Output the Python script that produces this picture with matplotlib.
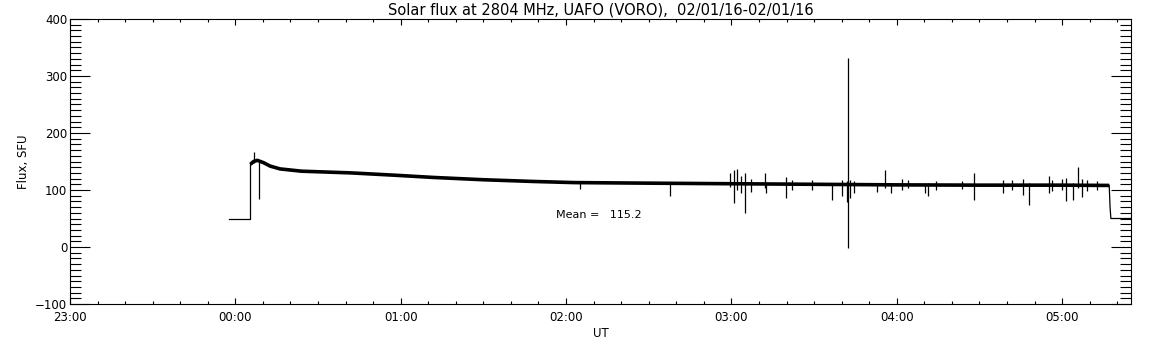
import numpy as np
import matplotlib
matplotlib.use("Agg")
import matplotlib.pyplot as plt
from matplotlib.ticker import MultipleLocator, FuncFormatter

# time in hours relative to 00:00 UT (23:00 of previous day = -1)
trend_t = [-0.036, 0.091, 0.091, 0.11, 0.133, 0.17, 0.21, 0.27, 0.40, 0.70,
           0.96, 1.20, 1.50, 1.80, 2.05, 2.50, 3.00, 3.50, 4.00, 4.50,
           5.00, 5.285, 5.29, 5.295, 5.42]
trend_flux = [50, 50, 145, 150, 152, 148, 142, 137, 133, 130,
              126, 122, 118, 115, 113, 112, 111, 110, 109, 108.5,
              108.5, 108, 70, 50, 50]

# short spikes / dropouts: time, low, high
spike_t = [0.115, 0.141, 2.087, 2.626, 2.994, 3.018, 3.036, 3.081, 3.202, 3.212,
           3.329, 3.606, 3.697, 3.703, 3.717, 3.879, 3.929, 3.965, 4.071, 4.170,
           4.192, 4.468, 4.642, 4.764, 4.802, 4.919, 5.000, 5.026, 5.065, 5.097,
           5.121, 3.060, 3.121, 3.364, 3.485, 3.667, 3.739, 4.030, 4.240, 4.394,
           4.697, 4.940, 5.150, 5.210]
spike_lo = [148, 84, 102, 89.5, 106, 77, 100, 60, 104, 94,
            86, 82.5, 79.5, -2, 86, 97, 104, 94, 104, 95,
            89.5, 82.5, 94, 91, 73.7, 94, 100, 80.7, 82.5, 104,
            88, 95, 97, 100, 100, 90, 95, 100, 100, 102,
            100, 98, 98, 100]
spike_hi = [167, 150, 113, 112, 130, 135, 136, 130, 130, 112,
            123, 112, 115, 332, 118, 112, 135, 112, 117.5, 112,
            112, 130, 118, 118.7, 112, 124.6, 119, 120.5, 112, 141,
            119, 125, 120, 118, 117, 117, 116, 119, 116, 116,
            117, 118, 117, 115]

mean_label = "Mean =   115.2"
title = "Solar flux at 2804 MHz, UAFO (VORO),  02/01/16-02/01/16"

plt.rcParams['font.family'] = ['DejaVu Sans']
fig = plt.figure(figsize=(11.52, 3.45), dpi=100)
ax = fig.add_axes([70 / 1152, 1 - 304 / 345, (1131 - 70) / 1152, (304 - 19) / 345])

# thin step parts before/after the observation, thick noisy band in between
ax.plot(trend_t[:3], trend_flux[:3], color='black', linewidth=0.9)
ax.plot(trend_t[2:22], trend_flux[2:22], color='black', linewidth=2.6,
        solid_capstyle='butt', solid_joinstyle='miter')
ax.plot(trend_t[21:], trend_flux[21:], color='black', linewidth=0.9)
ax.vlines(spike_t, spike_lo, spike_hi, color='black', linewidth=0.9)

ax.text(1.94, 56, mean_label, fontsize=8, ha='left', va='center')

ax.set_xlim(-1, 5.4167)
ax.set_ylim(-100, 400)
ax.xaxis.set_major_locator(MultipleLocator(1))
ax.xaxis.set_minor_locator(MultipleLocator(1 / 6))
ax.yaxis.set_major_locator(MultipleLocator(100))
ax.yaxis.set_minor_locator(MultipleLocator(10))


def hhmm(v, pos):
    h = int(np.floor(v + 1e-6)) % 24
    m = int(round((v - np.floor(v + 1e-6)) * 60))
    return f"{h:02d}:{m:02d}"


ax.xaxis.set_major_formatter(FuncFormatter(hhmm))
ax.tick_params(axis='x', which='major', direction='in', length=4.3, width=0.8,
               top=True, labelsize=8.5, pad=5)
ax.tick_params(axis='x', which='minor', direction='in', length=2.2, width=0.8, top=True)
ax.tick_params(axis='y', which='major', direction='in', length=14.4, width=0.8,
               right=True, labelsize=8.5, pad=2)
ax.tick_params(axis='y', which='minor', direction='in', length=7.9, width=0.8, right=True)
for s in ax.spines.values():
    s.set_linewidth(0.8)

ax.set_xlabel("UT", fontsize=8.5, labelpad=2)
ax.set_ylabel("Flux, SFU", fontsize=8.5, labelpad=4)
ax.set_title(title, fontsize=10.5, pad=3)

fig.savefig("out.png", dpi=100, facecolor='white')
